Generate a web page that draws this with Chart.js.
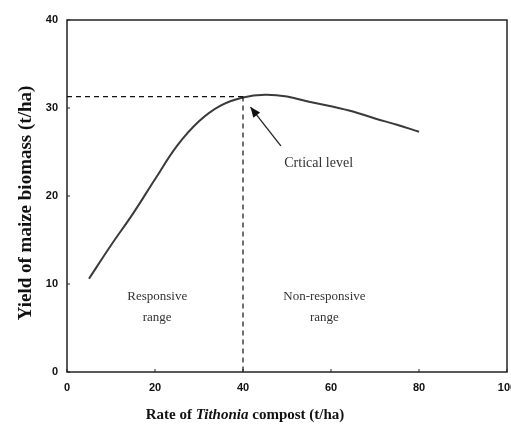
<!DOCTYPE html>
<html>
<head>
<meta charset="utf-8">
<script src="https://cdn.jsdelivr.net/npm/chart.js@4/dist/chart.umd.min.js"></script>
<style>
  html, body { margin: 0; padding: 0; background: #fff; }
  #wrap { width: 511px; height: 428px; }
</style>
</head>
<body>
<div id="wrap"><canvas id="myChart" width="511" height="428"></canvas></div>
<script>
// data
const rates = [5, 10, 15, 20, 25, 30, 35, 40, 45, 50, 55, 60, 65, 70, 75, 80];
const yields = [10.6, 14.4, 18.0, 21.9, 25.7, 28.5, 30.3, 31.2, 31.5, 31.3, 30.7, 30.2, 29.6, 28.8, 28.1, 27.3];
const xTicks = [0, 20, 40, 60, 80, 100];
const yTicks = [0, 10, 20, 30, 40];
const criticalRate = 40;
const criticalYield = 31.3;

// frame, dashed guides, labels and arrow
const extras = {
    id: 'extras',
    afterDatasetsDraw(chart) {
        const ctx = chart.ctx;
        const a = chart.chartArea;
        const x = chart.scales.x, y = chart.scales.y;

        ctx.save();
        ctx.strokeStyle = '#222';
        ctx.lineWidth = 1.5;
        ctx.strokeRect(a.left, a.top, a.right - a.left, a.bottom - a.top);

        // inward tick marks
        ctx.lineWidth = 1;
        xTicks.forEach(v => {
            const px = x.getPixelForValue(v);
            ctx.beginPath(); ctx.moveTo(px, a.bottom); ctx.lineTo(px, a.bottom - 3); ctx.stroke();
        });
        yTicks.forEach(v => {
            const py = y.getPixelForValue(v);
            ctx.beginPath(); ctx.moveTo(a.left, py); ctx.lineTo(a.left + 3, py); ctx.stroke();
        });

        // dashed lines at the critical level
        ctx.setLineDash([5, 4]);
        ctx.strokeStyle = '#111';
        ctx.lineWidth = 1.2;
        const cx = x.getPixelForValue(criticalRate);
        const cy = y.getPixelForValue(criticalYield);
        ctx.beginPath();
        ctx.moveTo(x.getPixelForValue(0), cy); ctx.lineTo(cx, cy);
        ctx.moveTo(cx, cy); ctx.lineTo(cx, y.getPixelForValue(0));
        ctx.stroke();
        ctx.setLineDash([]);

        // arrow
        const tx = x.getPixelForValue(48.6), ty = y.getPixelForValue(25.7);
        const hx = x.getPixelForValue(41.7), hy = y.getPixelForValue(30.1);
        ctx.strokeStyle = '#222';
        ctx.lineWidth = 1.3;
        ctx.beginPath(); ctx.moveTo(tx, ty); ctx.lineTo(hx, hy); ctx.stroke();
        const ang = Math.atan2(hy - ty, hx - tx);
        ctx.fillStyle = '#111';
        ctx.beginPath();
        ctx.moveTo(hx, hy);
        ctx.lineTo(hx - 11 * Math.cos(ang - 0.4), hy - 11 * Math.sin(ang - 0.4));
        ctx.lineTo(hx - 11 * Math.cos(ang + 0.4), hy - 11 * Math.sin(ang + 0.4));
        ctx.closePath();
        ctx.fill();

        // region labels
        ctx.fillStyle = '#333';
        ctx.font = '13px "Liberation Serif"';
        ctx.textAlign = 'center';
        ctx.textBaseline = 'middle';
        ctx.fillText('Responsive', x.getPixelForValue(20.5), y.getPixelForValue(8.6));
        ctx.fillText('range', x.getPixelForValue(20.5), y.getPixelForValue(6.2));
        ctx.fillText('Non-responsive', x.getPixelForValue(58.5), y.getPixelForValue(8.6));
        ctx.fillText('range', x.getPixelForValue(58.5), y.getPixelForValue(6.2));
        ctx.font = '14px "Liberation Serif"';
        ctx.fillText('Crtical level', x.getPixelForValue(57.2), y.getPixelForValue(23.7));

        // axis titles
        ctx.fillStyle = '#111';
        ctx.textAlign = 'left';
        ctx.textBaseline = 'alphabetic';
        const parts = [
            ['Rate of ', 'bold 15px "Liberation Serif"'],
            ['Tithonia', 'bold italic 15px "Liberation Serif"'],
            [' compost (t/ha)', 'bold 15px "Liberation Serif"']
        ];
        let total = 0;
        parts.forEach(p => { ctx.font = p[1]; total += ctx.measureText(p[0]).width; });
        let px = 245 - total / 2;
        parts.forEach(p => {
            ctx.font = p[1];
            ctx.fillText(p[0], px, 419);
            px += ctx.measureText(p[0]).width;
        });

        ctx.translate(31, 203);
        ctx.rotate(-Math.PI / 2);
        ctx.textAlign = 'center';
        ctx.font = 'bold 19px "Liberation Serif"';
        ctx.fillText('Yield of maize biomass (t/ha)', 0, 0);
        ctx.restore();
    }
};

const myChartRef = document.getElementById('myChart').getContext('2d');
new Chart(myChartRef, {
    type: 'line',
    data: {
        datasets: [{
            data: rates.map((r, i) => ({ x: r, y: yields[i] })),
            borderColor: '#3a3a3a',
            borderWidth: 2,
            pointRadius: 0,
            tension: 0.4,
            fill: false
        }]
    },
    options: {
        responsive: false,
        animation: false,
        layout: { padding: { top: 20, right: 4, left: 0, bottom: 0 } },
        plugins: {
            legend: { display: false },
            tooltip: { enabled: false }
        },
        scales: {
            x: {
                type: 'linear',
                min: 0,
                max: 100,
                afterBuildTicks: s => { s.ticks = xTicks.map(v => ({ value: v })); },
                afterFit: s => { s.height = 56; s.paddingLeft = 0; s.paddingRight = 0; },
                grid: { display: false, drawTicks: false },
                border: { display: false },
                ticks: {
                    color: '#111',
                    padding: 9,
                    maxRotation: 0,
                    font: { family: 'Liberation Sans', size: 11, weight: 'bold' }
                }
            },
            y: {
                min: 0,
                max: 40,
                afterBuildTicks: s => { s.ticks = yTicks.map(v => ({ value: v })); },
                afterFit: s => { s.width = 67; s.paddingTop = 0; s.paddingBottom = 0; },
                grid: { display: false, drawTicks: false },
                border: { display: false },
                ticks: {
                    color: '#111',
                    padding: 9,
                    font: { family: 'Liberation Sans', size: 11, weight: 'bold' }
                }
            }
        }
    },
    plugins: [extras]
});
</script>
</body>
</html>
